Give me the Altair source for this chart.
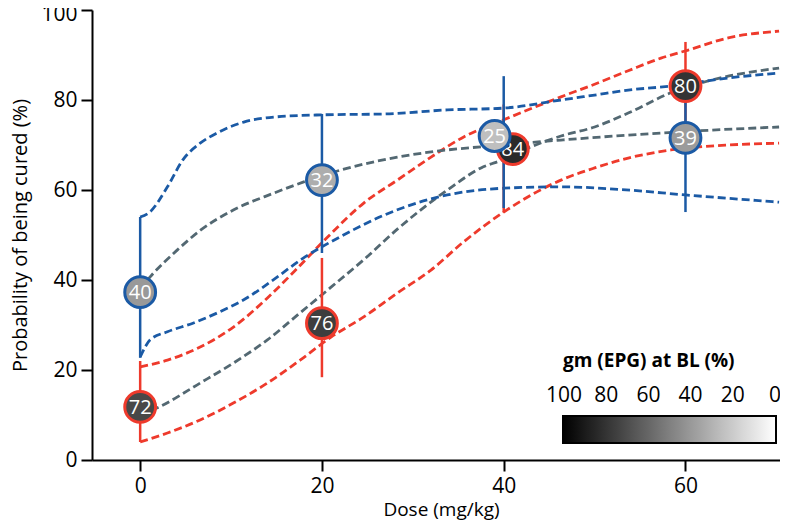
import altair as alt
import pandas as pd

# ---- measured points (dose, probability of cure %) ----
blue_x = [0, 20, 39, 60]
red_x = [0, 20, 41, 60]
bar_x = [0, 20, 40, 60]
blue_p = [37.3, 62.2, 72.0, 71.6]
red_p = [11.8, 30.4, 69.1, 83.1]
blue_lo = [22.7, 46.0, 56.0, 55.1]
blue_hi = [54.0, 76.9, 85.3, 84.0]
red_lo = [4.0, 18.4, 55.0, 69.0]
red_hi = [22.0, 44.9, 79.0, 92.9]
blue_gm = [40, 32, 25, 39]
red_gm = [72, 76, 84, 80]

# ---- fitted curves ----
bu_d = [0, 1, 3, 4.7, 6.6, 8.5, 11.4, 14.7, 20, 27, 33.8, 40, 46.3, 50, 53.7, 58.4, 64.7, 70.3]
bu_v = [54, 55, 60.7, 66.7, 70.4, 72.7, 75.1, 76.2, 76.7, 76.9, 77.8, 78.2, 80, 81.1, 82.2, 83.1, 84.9, 86]
bl_d = [0, 1.1, 3, 5.8, 8.5, 11.4, 15.1, 17.6, 22, 28.3, 33.8, 40, 46.3, 53, 60, 70.3]
bl_v = [22.9, 26.7, 28.5, 30.4, 32.7, 35.6, 40.7, 44.4, 49.6, 55.6, 58.9, 60.4, 60.7, 60.1, 58.9, 57.3]
bm_d = [0, 1.1, 4.1, 6.6, 10.3, 14.7, 18, 22, 28.3, 33.8, 37.5, 46.3, 53.7, 62.8, 70.3]
bm_v = [38, 40.7, 46.7, 51, 55.6, 59.3, 61.8, 64.4, 67.3, 68.9, 69.6, 71.1, 72.2, 73.3, 74]
ru_d = [0, 3, 6.6, 10.3, 14, 17, 20.6, 24.6, 28.3, 32, 35.6, 40, 46.3, 50, 53.7, 57.3, 60.3, 64.7, 70.3]
ru_v = [20.7, 22.2, 25.1, 29.6, 36, 42, 49.5, 57.1, 62.2, 67.3, 71.8, 75.6, 80.7, 83.5, 86.5, 89.3, 91.1, 93.8, 95.3]
rl_d = [0, 3, 6.6, 10.3, 14, 17.6, 21, 24.6, 28.3, 32, 35.6, 40, 46.3, 50, 53.7, 58.4, 64.7, 70.3]
rl_v = [4, 6, 8.9, 12.7, 17.1, 22.2, 27.3, 31.8, 37.1, 42.2, 48.5, 55.1, 62.2, 64.9, 67.1, 68.9, 70, 70.4]
rm_d = [0, 1.9, 6.6, 10.3, 14, 17.6, 21, 24.6, 28.3, 33.8, 37.5, 40, 43, 46.3, 50, 53.7, 58.4, 62.8, 70.3]
rm_v = [10, 11.6, 17.1, 21.6, 26.7, 32.7, 38.4, 44.5, 51.3, 60, 64.9, 66.8, 69.6, 72, 74, 77.1, 81.6, 84.4, 87.1]

BLUE = "#1b5aa5"
RED = "#ee3a2c"
GREY = "#536872"
FONT = "Open Sans"

rows = []
for name, ink, ds, vs in [
    ("red_hi", "red", ru_d, ru_v), ("red_lo", "red", rl_d, rl_v),
    ("red_mean", "grey", rm_d, rm_v),
    ("blue_hi", "blue", bu_d, bu_v), ("blue_lo", "blue", bl_d, bl_v),
    ("blue_mean", "grey", bm_d, bm_v),
]:
    for d, v in zip(ds, vs):
        rows.append({"curve": name, "ink": ink, "dose": d, "p": v})
curves = pd.DataFrame(rows)

def pts(xs, ps, los, his, gms, ink, bx):
    return pd.DataFrame({"dose": xs, "p": ps, "lo": los, "hi": his, "gm": gms,
                         "ink": ink, "bx": bx})

blue_df = pts(blue_x, blue_p, blue_lo, blue_hi, blue_gm, "blue", bar_x)
red_df = pts(red_x, red_p, red_lo, red_hi, red_gm, "red", bar_x)

xs = alt.Scale(domain=[-5.3, 70.4], nice=False, zero=False)
ys = alt.Scale(domain=[0, 100], nice=False)
ink_scale = alt.Scale(domain=["blue", "red", "grey"], range=[BLUE, RED, GREY])
fill_scale = alt.Scale(domain=[100.5, -0.5], range=["#000000", "#ffffff"],
                       interpolate="rgb", nice=False, zero=False)

X = alt.X("dose:Q", scale=xs,
          axis=alt.Axis(values=[0, 20, 40, 60], title="Dose (mg/kg)", titleX=349))
Y = alt.Y("p:Q", scale=ys,
          axis=alt.Axis(values=[0, 20, 40, 60, 80, 100],
                        labelOffset={"expr": "datum.value == 100 ? 4 : 0"},
                        title="Probability of being cured (%)", titleX=-62))

lines = alt.Chart(curves).mark_line(strokeWidth=2.8, strokeDash=[8, 4],
                                    interpolate="monotone").encode(
    x=X, y=Y, detail="curve:N",
    stroke=alt.Stroke("ink:N", scale=ink_scale, legend=None),
)

def bars(df):
    return alt.Chart(df).mark_rule(strokeWidth=2.5).encode(
        x=alt.X("bx:Q", scale=xs), y=alt.Y("lo:Q", scale=ys), y2="hi:Q",
        stroke=alt.Stroke("ink:N", scale=ink_scale, legend=None),
    )

legend = alt.Legend(
    title="gm (EPG) at BL (%)", orient="none", direction="horizontal",
    legendX=471, legendY=342, gradientLength=213, gradientThickness=27,
    values=[100, 80, 60, 40, 20, 0],
    titleFont=FONT, titleFontSize=19, titleFontWeight="bold", titleColor="black",
    titlePadding=45,
    labelFont=FONT, labelFontSize=21, labelColor="black", labelOverlap=False,
    labelOffset={"expr": "-58"}, labelBaseline="bottom", labelAlign="center",
    gradientStrokeColor="black", gradientStrokeWidth=2,
)

def circles(df, show_legend):
    return alt.Chart(df).mark_circle(size=950, opacity=1, strokeWidth=3).encode(
        x=X, y=Y,
        fill=alt.Fill("gm:Q", scale=fill_scale, legend=legend if show_legend else None),
        stroke=alt.Stroke("ink:N", scale=ink_scale, legend=None),
    )

def labels(df):
    return alt.Chart(df).mark_text(color="white", font=FONT, fontSize=20,
                                   baseline="middle", align="center", dy=1).encode(
        x=X, y=Y, text="gm:Q")

chart = alt.layer(
    lines,
    bars(red_df), bars(blue_df),
    circles(red_df, True), labels(red_df),
    circles(blue_df, False), labels(blue_df),
).properties(
    width=688, height=450,
    autosize=alt.AutoSizeParams(type="none"),
    padding={"left": 84, "top": 2, "right": 0, "bottom": 63},
).configure_view(stroke=None).configure_axis(
    grid=False, domainColor="black", domainWidth=2, tickColor="black", tickWidth=2,
    tickSize=11, labelFont=FONT, labelFontSize=21, labelColor="black",
    titleFont=FONT, titleFontSize=20, titleFontWeight="normal", titleColor="black",
    labelPadding=4,
).configure_axisX(titlePadding=4, titleFontSize=19)

chart.save("out.html", embed_options={"renderer": "svg", "actions": False})
